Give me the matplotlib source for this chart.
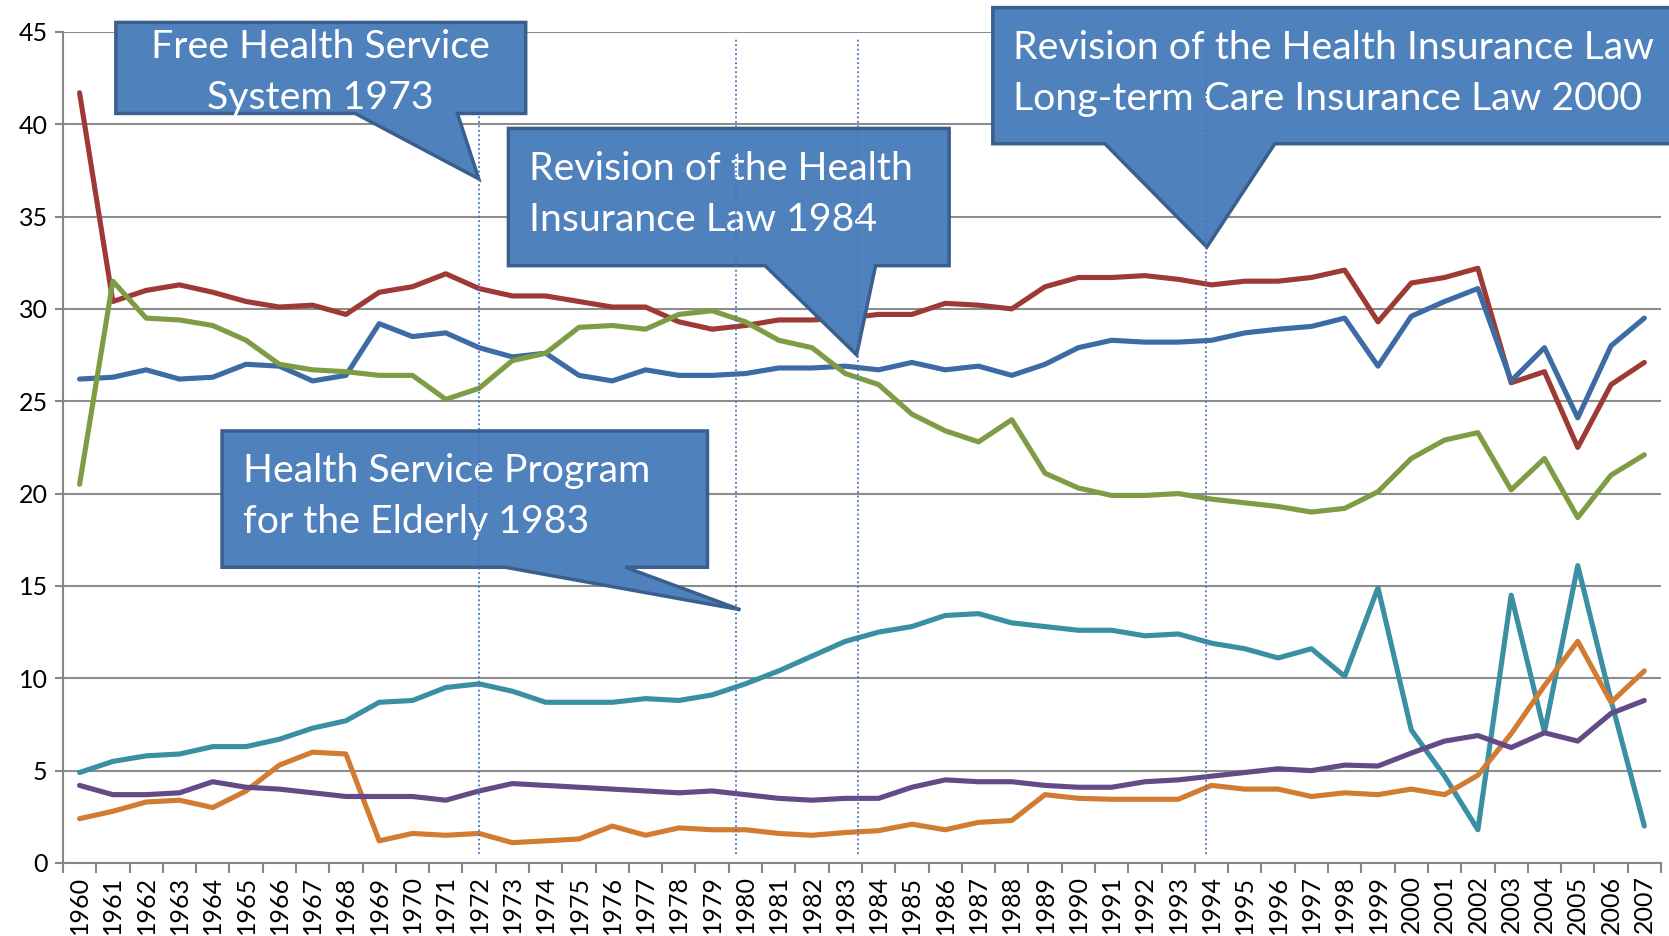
import matplotlib.pyplot as plt
from matplotlib.patches import Polygon

plt.rcParams['font.family'] = ['Lato', 'DejaVu Sans']

years = list(range(1960, 2008))

red = [41.7, 30.4, 31.0, 31.3, 30.9, 30.4, 30.1, 30.2, 29.7, 30.9, 31.2, 31.9, 31.1, 30.7, 30.7,
       30.4, 30.1, 30.1, 29.3, 28.9, 29.1, 29.4, 29.4, 29.5, 29.7, 29.7, 30.3, 30.2, 30.0, 31.2,
       31.7, 31.7, 31.8, 31.6, 31.3, 31.5, 31.5, 31.7, 32.1, 29.3, 31.4, 31.7, 32.2, 26.0, 26.6,
       22.5, 25.9, 27.1]
blue = [26.2, 26.3, 26.7, 26.2, 26.3, 27.0, 26.9, 26.1, 26.4, 29.2, 28.5, 28.7, 27.9, 27.4, 27.6,
        26.4, 26.1, 26.7, 26.4, 26.4, 26.5, 26.8, 26.8, 26.9, 26.7, 27.1, 26.7, 26.9, 26.4, 27.0,
        27.9, 28.3, 28.2, 28.2, 28.3, 28.7, 28.9, 29.05, 29.5, 26.9, 29.6, 30.4, 31.1, 26.1, 27.9,
        24.1, 28.0, 29.5]
green = [20.5, 31.5, 29.5, 29.4, 29.1, 28.3, 27.0, 26.7, 26.6, 26.4, 26.4, 25.1, 25.7, 27.2, 27.6,
         29.0, 29.1, 28.9, 29.7, 29.9, 29.3, 28.3, 27.9, 26.5, 25.9, 24.3, 23.4, 22.8, 24.0, 21.1,
         20.3, 19.9, 19.9, 20.0, 19.7, 19.5, 19.3, 19.0, 19.2, 20.1, 21.9, 22.9, 23.3, 20.2, 21.9,
         18.7, 21.0, 22.1]
teal = [4.9, 5.5, 5.8, 5.9, 6.3, 6.3, 6.7, 7.3, 7.7, 8.7, 8.8, 9.5, 9.7, 9.3, 8.7,
        8.7, 8.7, 8.9, 8.8, 9.1, 9.7, 10.4, 11.2, 12.0, 12.5, 12.8, 13.4, 13.5, 13.0, 12.8,
        12.6, 12.6, 12.3, 12.4, 11.9, 11.6, 11.1, 11.6, 10.1, 14.9, 7.2, 4.7, 1.8, 14.5, 7.1,
        16.1, 8.8, 2.0]
orange = [2.4, 2.8, 3.3, 3.4, 3.0, 3.9, 5.3, 6.0, 5.9, 1.2, 1.6, 1.5, 1.6, 1.1, 1.2,
          1.3, 2.0, 1.5, 1.9, 1.8, 1.8, 1.6, 1.5, 1.65, 1.75, 2.1, 1.8, 2.2, 2.3, 3.7,
          3.5, 3.45, 3.45, 3.45, 4.2, 4.0, 4.0, 3.6, 3.8, 3.7, 4.0, 3.7, 4.75, 7.0, 9.6,
          12.0, 8.7, 10.4]
purple = [4.2, 3.7, 3.7, 3.8, 4.4, 4.1, 4.0, 3.8, 3.6, 3.6, 3.6, 3.4, 3.9, 4.3, 4.2,
          4.1, 4.0, 3.9, 3.8, 3.9, 3.7, 3.5, 3.4, 3.5, 3.5, 4.1, 4.5, 4.4, 4.4, 4.2,
          4.1, 4.1, 4.4, 4.5, 4.7, 4.9, 5.1, 5.0, 5.3, 5.25, 5.95, 6.6, 6.9, 6.25, 7.05,
          6.6, 8.1, 8.8]

series = [(red, '#9E3A36'), (blue, '#3D6BA4'), (green, '#7E9C43'),
          (teal, '#3A8FA3'), (orange, '#D17B33'), (purple, '#644A86')]

# callouts: box (x0, x1, y0, y1), pointer base (xa, xb), tip, text, text y
callouts = [
    ((1.09, 13.40, 40.58, 45.51), (8.28, 11.35), (11.99, 37.04), 'Free Health Service\nSystem 1973', 'center', 42.8),
    ((12.88, 26.12, 32.34, 39.77), (20.59, 23.91), (23.34, 27.51), 'Revision of the Health\nInsurance Law 1984', 'left', 36.2),
    ((4.28, 18.86, 16.01, 23.39), (12.79, 16.40), (19.85, 13.71), 'Health Service Program\nfor the Elderly 1983', 'left', 19.85),
    ((27.43, 48.2, 38.94, 46.31), (30.80, 35.90), (33.86, 33.35),
     'Revision of the Health Insurance Law\nLong-term Care Insurance Law 2000', 'left', 42.75),
]
marks = [(11.99, 40.5), (19.73, 44.6), (23.37, 44.6), (33.82, 44.6)]

fig = plt.figure(figsize=(16.69, 9.36), dpi=100)
ax = fig.add_axes([0.0377, 0.078, 0.9575, 0.888])

x = list(range(len(years)))
for vals, col in series:
    ax.plot(x, vals, color=col, lw=3.7, solid_capstyle='round', solid_joinstyle='round', zorder=3)

ax.set_xlim(-0.5, len(years) - 0.5)
ax.set_ylim(0, 45)
ax.set_yticks(range(0, 46, 5))
ax.set_xticks(x)
ax.set_xticklabels([str(y) for y in years], rotation=90, fontsize=18)
ax.set_xticks([i - 0.5 for i in range(len(years) + 1)], minor=True)
ax.tick_params(axis='x', which='major', length=0, pad=9)
ax.tick_params(axis='x', which='minor', length=7, width=1.5, color='#868686')
ax.tick_params(axis='y', length=6, width=1.5, color='#868686', labelsize=18, pad=5)
ax.grid(axis='y', color='#8C8C8C', lw=1.5)
ax.set_axisbelow(True)
for s in ['top', 'right']:
    ax.spines[s].set_visible(False)
for s in ['left', 'bottom']:
    ax.spines[s].set_color('#868686')
    ax.spines[s].set_linewidth(1.5)

for (x0, x1, y0, y1), (xa, xb), (tx, ty), txt, ha, ty_text in callouts:
    pts = [(x0, y1), (x1, y1), (x1, y0), (xb, y0), (tx, ty), (xa, y0), (x0, y0)]
    ax.add_patch(Polygon(pts, closed=True, facecolor='#4F81BD', edgecolor='#3A5F8C',
                         lw=2.5, joinstyle='miter', clip_on=False, zorder=5))
    if ha == 'center':
        ax.text((x0 + x1) / 2, ty_text, txt, ha='center', va='center', color='white',
                fontsize=28.3, linespacing=1.5, zorder=6)
    else:
        ax.text(x0 + 0.62, ty_text, txt, ha='left', va='center', color='white',
                fontsize=28.3, linespacing=1.5, zorder=6)

for mx, top in marks:
    ax.plot([mx, mx], [0.5, top], color='#4472C4', lw=1.3, ls=(0, (1, 1.5)), zorder=7, clip_on=False)

fig.savefig('out.png', dpi=100)
